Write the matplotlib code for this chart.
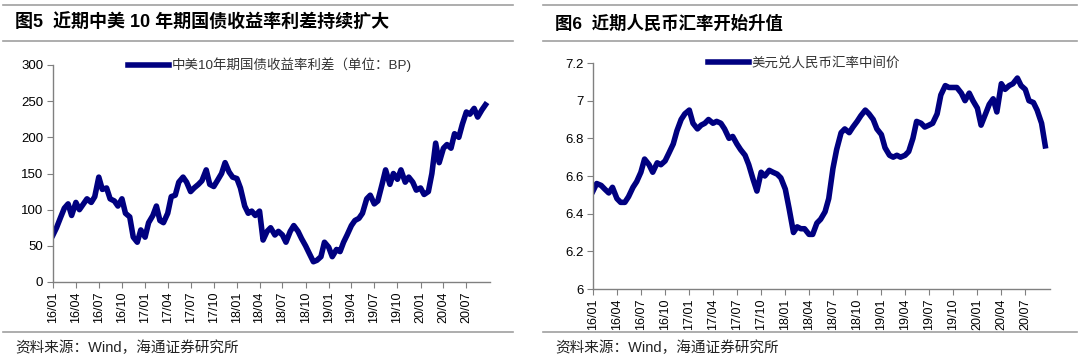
import pandas as pd
import matplotlib
matplotlib.use('Agg')
from matplotlib import pyplot as plt
from matplotlib.lines import Line2D

plt.rcParams['font.family'] = ['Liberation Sans', 'Noto Sans CJK SC']

# semi-monthly readings, 2016/01 -> 2020/09
dates = pd.date_range('2016-01-01', periods=114, freq='SMS')

spread_bp = [65, 75, 90, 102, 108, 92, 110, 100, 108, 115, 110, 118, 145, 128, 130, 115, 112, 105, 115, 95,
             90, 62, 55, 72, 62, 82, 92, 105, 85, 82, 95, 118, 120, 138, 145, 138, 125, 130, 135, 140,
             155, 135, 132, 140, 150, 165, 152, 145, 143, 130, 105, 95, 98, 92, 98, 58, 70, 75, 65, 70,
             65, 55, 70, 78, 70, 60, 50, 40, 28, 30, 35, 55, 48, 35, 45, 42, 55, 65, 78, 85,
             88, 95, 115, 120, 108, 112, 135, 155, 135, 150, 142, 155, 138, 145, 138, 127, 130, 121, 125, 150,
             192, 165, 185, 190, 185, 205, 200, 218, 235, 232, 240, 228, 238, 245]

usdcny = [6.52, 6.56, 6.55, 6.53, 6.51, 6.54, 6.48, 6.46, 6.46, 6.49, 6.54, 6.57, 6.62, 6.69, 6.66, 6.62, 6.67, 6.66, 6.68, 6.72,
          6.77, 6.84, 6.90, 6.93, 6.95, 6.88, 6.85, 6.87, 6.88, 6.90, 6.88, 6.89, 6.88, 6.85, 6.80, 6.81, 6.77, 6.74, 6.71, 6.66,
          6.58, 6.52, 6.62, 6.60, 6.63, 6.62, 6.61, 6.59, 6.53, 6.43, 6.30, 6.33, 6.32, 6.32, 6.29, 6.29, 6.35, 6.37, 6.41, 6.48,
          6.64, 6.74, 6.83, 6.85, 6.83, 6.86, 6.89, 6.92, 6.95, 6.93, 6.90, 6.85, 6.82, 6.75, 6.71, 6.70, 6.71, 6.70, 6.71, 6.73,
          6.80, 6.89, 6.88, 6.86, 6.87, 6.88, 6.93, 7.03, 7.08, 7.07, 7.07, 7.07, 7.04, 7.00, 7.04, 7.00, 6.96, 6.87, 6.93, 6.98,
          7.01, 6.94, 7.09, 7.06, 7.08, 7.09, 7.12, 7.08, 7.06, 7.00, 6.99, 6.95, 6.88, 6.76]

tick_dates = pd.date_range('2016-01-01', '2020-07-01', freq='QS')
tick_labels = [d.strftime('%y/%m') for d in tick_dates]

titles = ['图5  近期中美 10 年期国债收益率利差持续扩大', '图6  近期人民币汇率开始升值']
legend_names = ['中美10年期国债收益率利差（单位：BP)', '美元兑人民币汇率中间价']
source = '资料来源：Wind，海通证券研究所'

W, H = 1080, 357
fig = plt.figure(figsize=(W / 100, H / 100), dpi=100)
navy = '#000080'
grey = '#808080'

def px_axes(left, right, top, bottom):
    return fig.add_axes([left / W, 1 - bottom / H, (right - left) / W, (bottom - top) / H])

ax1 = px_axes(53, 490, 65, 282)
ax2 = px_axes(593, 1050, 63, 289)

ax1.plot(dates, spread_bp, color=navy, lw=4, label=legend_names[0])
ax1.set_ylim(0, 300)
ax1.set_yticks(range(0, 301, 50))

ax2.plot(dates, usdcny, color=navy, lw=4, label=legend_names[1])
ax2.set_ylim(6, 7.2)
ax2.set_yticks([6, 6.2, 6.4, 6.6, 6.8, 7, 7.2])
ax2.set_yticklabels(['6', '6.2', '6.4', '6.6', '6.8', '7', '7.2'])

for ax, lx in [(ax1, 0.172), (ax2, 0.252)]:
    ax.set_xlim(pd.Timestamp('2016-01-01'), pd.Timestamp('2020-10-03'))
    ax.set_xticks(tick_dates)
    ax.set_xticklabels(tick_labels, rotation=90, fontsize=9)
    ax.tick_params(axis='y', labelsize=9.5, length=4, color=grey, pad=3)
    ax.tick_params(axis='x', length=4, color=grey, pad=3)
    for s in ['top', 'right']:
        ax.spines[s].set_visible(False)
    for s in ['left', 'bottom']:
        ax.spines[s].set_color(grey)
        ax.spines[s].set_linewidth(1.0)
    leg = ax.legend(loc='center left', bbox_to_anchor=(lx, 1.0), frameon=False,
                    fontsize=9.7, handlelength=3.0, handletextpad=0.25,
                    borderpad=0, borderaxespad=0)
    for t in leg.get_texts():
        t.set_color('#333333')

# titles, rules and source lines
for x0, x1, title, tsize in [(3, 513, titles[0], 13), (543, 1077, titles[1], 12.5)]:
    for y in [5, 41, 332]:
        fig.add_artist(Line2D([x0 / W, x1 / W], [1 - y / H, 1 - y / H], color='#a0a0a0', lw=1.2))
    fig.text((x0 + 12) / W, 1 - 23 / H, title, fontsize=tsize, fontweight='bold', va='center')
    fig.text((x0 + 12) / W, 1 - 348 / H, source, fontsize=10.5, va='center', color='#222222')

plt.savefig('out.png', dpi=100)
